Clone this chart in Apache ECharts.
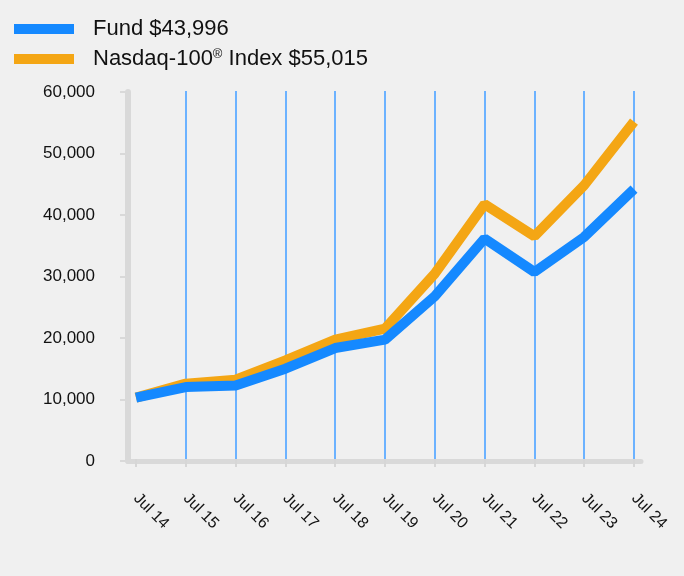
<!DOCTYPE html>
<html><head><meta charset="utf-8">
<script src="https://cdn.jsdelivr.net/npm/echarts@6/dist/echarts.min.js"></script>
<style>html,body{margin:0;padding:0;background:#f0f0f0}#c{width:684px;height:576px}</style>
</head><body><div id="c"></div>
<script>
var categories = ['Jul 14','Jul 15','Jul 16','Jul 17','Jul 18','Jul 19','Jul 20','Jul 21','Jul 22','Jul 23','Jul 24'];
var fundValues = [10000, 11730, 12000, 14730, 18090, 19460, 26530, 35940, 30490, 36200, 43996];
var indexValues = [10000, 12280, 12940, 16080, 19460, 21260, 30230, 41530, 36310, 44630, 55015];
var yTicks = [0, 10000, 20000, 30000, 40000, 50000, 60000];
var fundName = 'Fund $43,996';
var indexName = 'Nasdaq-100® Index $55,015';

var chart = echarts.init(document.getElementById('c'));
var font = 'Liberation Sans, Arial, sans-serif';
chart.setOption({
  backgroundColor: '#f0f0f0',
  animation: false,
  legend: {
    orient: 'vertical', left: 14, top: 18, padding: 0, itemWidth: 60, itemHeight: 10, itemGap: 8,
    icon: 'rect',
    data: [fundName, indexName],
    textStyle: { fontFamily: font, fontSize: 22, color: '#111', padding: [0,0,0,14],
      rich: { n: { fontFamily: font, fontSize: 22, color: '#111' },
              s: { fontFamily: font, fontSize: 13, color: '#111', verticalAlign: 'top', padding: [0,0,8,0] } } },
    formatter: function (name) {
      if (name === indexName) return '{n|Nasdaq-100}{s|®}{n| Index $55,015}';
      return '{n|' + name + '}';
    }
  },
  grid: [
    { left: 136, right: 50, top: 91, bottom: 117 },
    { left: 128, right: 43, top: 92, bottom: 115 }
  ],
  xAxis: [
    { type: 'category', gridIndex: 0, data: categories, boundaryGap: false,
      axisLine: { show: false },
      axisTick: { show: true, alignWithLabel: true, length: 8, inside: false, lineStyle: { color: '#d6d6d6', width: 2 }, interval: 0 },
      axisLabel: { rotate: -45, margin: 37, fontFamily: font, fontSize: 16, color: '#111', interval: 0 },
      splitLine: { show: true, interval: function (i) { return i > 0; }, lineStyle: { color: '#6cb2ff', width: 2 } } },
    { type: 'value', gridIndex: 1, min: 0, max: 1, axisLine: { show: true, lineStyle: { color: '#d9d9d9', width: 5 } },
      axisTick: { show: false }, axisLabel: { show: false }, splitLine: { show: false } }
  ],
  yAxis: [
    { type: 'value', gridIndex: 0, min: 0, max: 60000, interval: 10000, show: false },
    { type: 'value', gridIndex: 1, min: 0, max: 60000, interval: 10000,
      axisLine: { show: true, lineStyle: { color: '#d9d9d9', width: 6 } },
      axisTick: { show: true, length: 8, lineStyle: { color: '#d9d9d9', width: 2 } },
      axisLabel: { margin: 33, fontFamily: font, fontSize: 17, color: '#111',
        customValues: yTicks,
        formatter: function (v) { return v.toLocaleString('en-US'); } },
      splitLine: { show: false } }
  ],
  series: [
    { name: indexName, type: 'line', xAxisIndex: 0, yAxisIndex: 0, data: indexValues, symbol: 'none',
      color: '#f4a614', lineStyle: { color: '#f4a614', width: 10 }, z: 2 },
    { name: fundName, type: 'line', xAxisIndex: 0, yAxisIndex: 0, data: fundValues, symbol: 'none',
      color: '#1589ff', lineStyle: { color: '#1589ff', width: 10 }, z: 3 }
  ]
});
</script></body></html>
